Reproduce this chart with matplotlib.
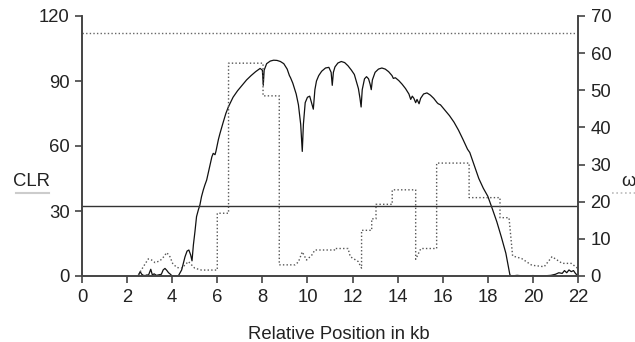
import matplotlib
matplotlib.use("Agg")
import matplotlib.pyplot as plt
from matplotlib.lines import Line2D

plt.rcParams['font.family'] = ['Liberation Sans', 'DejaVu Sans']

# CLR profile (left axis)
clr_pos = [2.5, 2.58, 2.65, 2.72, 2.8, 2.88, 2.95, 3.05, 3.12, 3.2, 3.3, 3.42, 3.52, 3.6,
           3.68, 3.76, 3.84, 3.9, 3.98, 4.1, 4.27, 4.42, 4.57, 4.66, 4.74, 4.82, 4.88,
           4.94, 5.01, 5.08, 5.16, 5.23, 5.3, 5.38, 5.45, 5.53, 5.65, 5.76, 5.82, 5.9,
           5.94, 6.05, 6.12, 6.25, 6.38, 6.49, 6.7, 6.9, 7.1, 7.3, 7.5, 7.7, 7.9, 8.0,
           8.04, 8.08, 8.19, 8.35, 8.5, 8.65, 8.8, 8.95, 9.1, 9.2, 9.25, 9.35, 9.5, 9.6,
           9.7, 9.77, 9.82, 9.9, 10.0, 10.1, 10.18, 10.26, 10.33, 10.4, 10.5, 10.63, 10.8,
           10.95, 11.05, 11.1, 11.15, 11.22, 11.35, 11.5, 11.65, 11.8, 11.95, 12.08, 12.15,
           12.26, 12.33, 12.38, 12.43, 12.53, 12.62, 12.71, 12.78, 12.83, 12.88, 13.0,
           13.15, 13.3, 13.45, 13.6, 13.75, 13.81, 13.9, 14.05, 14.2, 14.35, 14.5, 14.58,
           14.65, 14.72, 14.8, 14.86, 14.95, 15.02, 15.15, 15.3, 15.45, 15.6, 15.75, 15.8,
           15.9, 16.1, 16.3, 16.5, 16.7, 16.9, 17.1, 17.17, 17.2, 17.4, 17.6, 17.8, 18.0,
           18.2, 18.4, 18.6, 18.8, 18.98, 19.05, 19.3, 19.6, 20.0, 20.4, 20.8, 21.0, 21.15,
           21.3, 21.4, 21.5, 21.6, 21.7, 21.8, 21.9, 22.0]
clr_val = [0.3, 2.0, 0.8, 0.3, 0.2, 0.5, 0.4, 3.1, 0.5, 1.0, 0.3, 0.6, 0.8, 2.8,
           3.5, 2.6, 1.5, 1.0, 0.2, 0.0, 0.0, 2.8, 8.9, 11.5, 12.0, 9.7, 7.0,
           14.3, 20.5, 27.4, 30.5, 32.8, 36.6, 39.7, 42.0, 44.3, 50.0, 55.0, 56.6, 56.0,
           57.5, 63.0, 65.8, 70.5, 75.0, 78.0, 82.5, 85.5, 88.0, 90.5, 92.5, 94.3, 95.8, 95.0,
           88.0, 95.0, 98.0, 99.2, 99.6, 99.5, 99.0, 98.0, 95.5, 92.5, 91.5, 89.0, 84.0, 79.0,
           70.0, 57.5, 70.0, 80.0, 82.5, 83.0, 80.0, 77.0, 86.0, 90.0, 92.5, 94.5, 96.0,
           96.3, 94.0, 88.0, 94.0, 96.5, 98.3, 99.0, 98.5, 97.0, 95.0, 93.0, 90.5,
           86.5, 82.0, 78.0, 86.0, 91.0, 92.0, 91.0, 88.5, 86.0, 90.5, 94.0,
           95.5, 96.0, 95.5, 94.3, 92.5, 91.2, 91.5, 90.2, 88.5, 86.5, 84.0, 81.5,
           83.0, 82.0, 80.0, 81.5, 79.5, 82.0, 84.0, 84.5, 83.5, 82.0, 80.0, 79.5,
           79.0, 76.5, 74.0, 71.0, 67.3, 63.0, 58.5, 57.5, 57.0, 51.0, 45.0, 40.5, 36.8,
           31.0, 25.0, 18.0, 10.5, 0.5, 0.0, 0.3, 0.0, 0.2, 0.0, 0.3, 0.8, 1.5,
           1.2, 2.5, 1.5, 2.8, 2.0, 2.5, 1.0, 0.3]

# omega profile (right axis)
omega_pos = [2.5, 2.72, 2.94, 3.09, 3.24, 3.46, 3.6, 3.76, 3.9, 4.02, 4.2, 4.42, 4.57,
             4.72, 4.86, 5.0, 5.3, 5.9, 6.0, 6.0, 6.5, 6.5, 8.03, 8.03, 8.75, 8.75, 9.45,
             9.6, 9.77, 9.96, 10.19, 10.33, 11.2, 11.2, 11.8, 11.9, 12.25, 12.4, 12.4, 12.85,
             12.85, 13.04, 13.04, 13.76, 13.76, 14.8, 14.8, 15.03, 15.73, 15.73, 17.17, 17.17,
             18.54, 18.54, 18.94, 19.1, 19.5, 19.95, 20.5, 20.85, 21.3, 21.7, 22.0]
omega_val = [0.3, 2.5, 4.6, 4.3, 3.6, 4.1, 5.0, 6.3, 5.2, 3.4, 2.3, 2.1, 3.0,
             3.9, 3.0, 2.1, 1.6, 1.6, 1.6, 16.9, 16.9, 57.3, 57.3, 48.5, 48.5, 3.0, 3.0,
             3.8, 6.5, 4.3, 5.6, 7.0, 7.0, 7.4, 7.4, 5.2, 3.9, 2.1, 12.3, 12.3,
             15.4, 15.4, 19.3, 19.3, 23.2, 23.2, 4.5, 7.4, 7.4, 30.4, 30.4, 21.1,
             21.1, 15.7, 15.7, 5.4, 4.7, 2.9, 2.5, 5.2, 3.4, 3.4, 2.0]

clr_cutoff = 32.3
omega_cutoff = 65.4

x_ticks = list(range(0, 23, 2))
clr_ticks = [0, 30, 60, 90, 120]
omega_ticks = list(range(0, 71, 10))

fig = plt.figure(figsize=(6.35, 3.42), dpi=100)
ax = fig.add_axes([82 / 635, 1 - 276 / 342, (578 - 82) / 635, 260 / 342])
ax2 = ax.twinx()

spine_col = '#444444'
text_col = '#222222'

ax.plot(clr_pos, clr_val, color='#111111', lw=0.9, clip_on=False)
ax.axhline(clr_cutoff, color='#333333', lw=1.0)
ax2.plot(omega_pos, omega_val, color='#555555', lw=1.0, linestyle=(0, (1, 1.6)))
ax2.axhline(omega_cutoff, color='#666666', lw=1.0, linestyle=(0, (1, 1.6)))

ax.set_xlim(0, 22)
ax.set_ylim(0, 120)
ax2.set_ylim(0, 70)
ax.set_xticks(x_ticks)
ax.set_yticks(clr_ticks)
ax2.set_yticks(omega_ticks)

for a in (ax, ax2):
    a.spines['top'].set_visible(False)
    for s in ('left', 'right', 'bottom'):
        a.spines[s].set_color(spine_col)
        a.spines[s].set_linewidth(1.2)
    a.tick_params(direction='out', length=5, width=1.2, color=spine_col,
                  labelsize=13.3, labelcolor=text_col, pad=4)

ax.set_xlabel('Relative Position in kb', fontsize=13.3, color=text_col)
ax.xaxis.set_label_coords((339 - 82) / (578 - 82), -(326 - 276) / 260)

fig.text(13 / 635, 1 - 182 / 342, 'CLR', fontsize=13.3, color=text_col,
         ha='left', va='center')
fig.add_artist(Line2D([16 / 635, 49 / 635], [1 - 193 / 342, 1 - 193 / 342],
                      color='#cccccc', lw=1.5))
fig.text(621 / 635, 1 - 182 / 342, 'ω', fontsize=13.3, color=text_col,
         ha='left', va='center')
fig.add_artist(Line2D([612 / 635, 1.0], [1 - 193 / 342, 1 - 193 / 342],
                      color='#bbbbbb', lw=1.2, linestyle=(0, (1, 1.6))))

fig.savefig('out.png', dpi=100)
